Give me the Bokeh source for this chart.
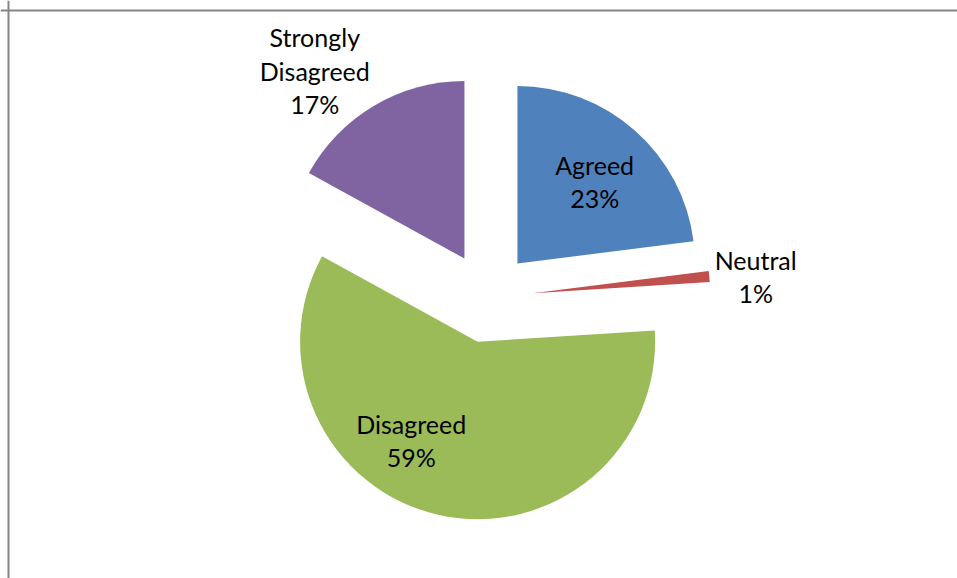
import numpy as np
from bokeh.plotting import figure
from bokeh.models import ColumnDataSource, Span
from bokeh.embed import file_html
from bokeh.resources import INLINE
from bokeh.core.properties import value

# ---- data ----
categories = ["Agreed", "Neutral", "Disagreed", "Strongly Disagreed"]
percent = [23, 1, 59, 17]
label_text = ["Agreed\n23%", "Neutral\n1%", "Disagreed\n59%", "Strongly\nDisagreed\n17%"]
colors = ["#4F81BD", "#C0504D", "#9BBB59", "#8064A2"]

# ---- layout / style ----
W, H = 957, 578
cx, cy = 487.0, 281.0      # pie centre (data units = pixels)
R = 177.5                  # radius
explode = 45.3             # explosion distance
label_dist = [158, 269, 162, 285]       # label distance from pie centre
label_shift = [1.3, 0.9, 15.5, -6.7]    # label angle offset from bisector (deg)

vals = np.array(percent, dtype=float)
frac = vals / vals.sum()
cw_end = np.cumsum(frac) * 2 * np.pi
cw_start = cw_end - frac * 2 * np.pi
cw_mid = (cw_start + cw_end) / 2

xs = cx + explode * np.sin(cw_mid)
ys = cy + explode * np.cos(cw_mid)

la = cw_mid + np.radians(label_shift)
lx = cx + np.array(label_dist) * np.sin(la)
ly = cy + np.array(label_dist) * np.cos(la)

src = ColumnDataSource(dict(
    x=xs, y=ys,
    start=np.pi / 2 - cw_start,
    end=np.pi / 2 - cw_end,
    color=colors,
    cat=categories,
))
lsrc = ColumnDataSource(dict(x=lx, y=ly, text=label_text))

p = figure(width=W, height=H, x_range=(0, W), y_range=(0, H),
           output_backend="svg", toolbar_location=None,
           x_axis_location=None, y_axis_location=None,
           min_border=0, outline_line_color=None)
p.grid.visible = False
p.background_fill_color = "white"
p.border_fill_color = "white"

p.wedge(x="x", y="y", radius=R, start_angle="start", end_angle="end",
        direction="clock", fill_color="color", line_color=None, source=src)

p.text(x="x", y="y", text="text", source=lsrc,
       text_font=value("Lato"), text_font_size="25px", text_color="#000000",
       text_align="center", text_baseline="middle", text_line_height=1.12)

p.add_layout(Span(location=H - 10, dimension="width", line_color="#868686", line_width=2))
p.add_layout(Span(location=8, dimension="height", line_color="#868686", line_width=2))

open("out.html", "w").write(file_html(p, INLINE))
